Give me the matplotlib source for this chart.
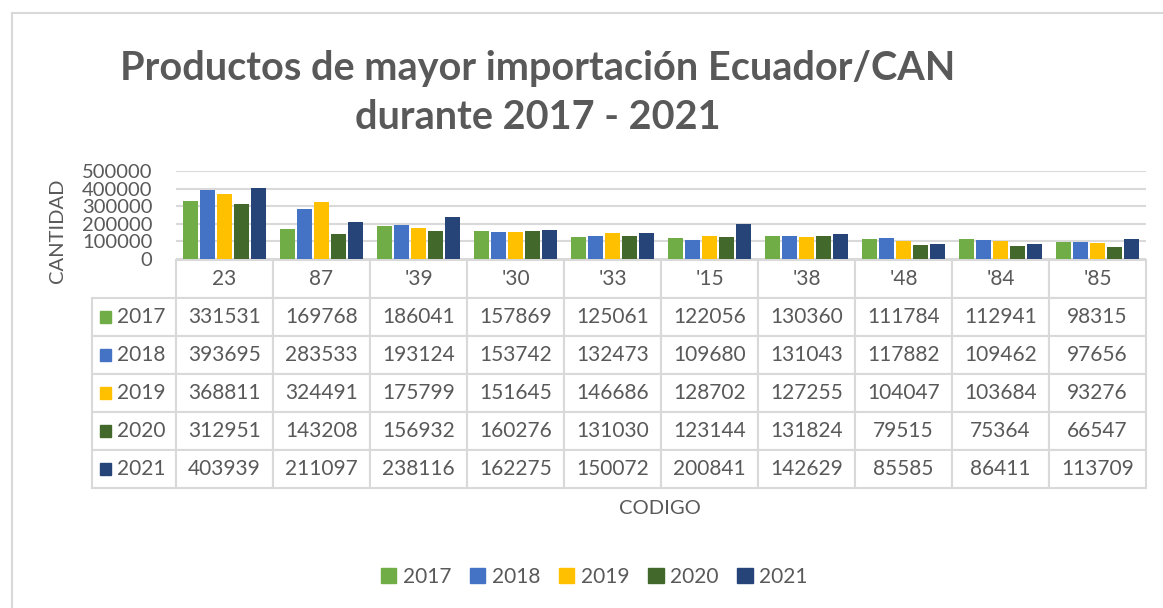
import matplotlib.pyplot as plt
from matplotlib.patches import Rectangle, Patch
import numpy as np

plt.rcParams['font.family'] = ['Lato', 'DejaVu Sans']

codigos = ['23', '87', "'39", "'30", "'33", "'15", "'38", "'48", "'84", "'85"]
anios = ['2017', '2018', '2019', '2020', '2021']
v2017 = [331531, 169768, 186041, 157869, 125061, 122056, 130360, 111784, 112941, 98315]
v2018 = [393695, 283533, 193124, 153742, 132473, 109680, 131043, 117882, 109462, 97656]
v2019 = [368811, 324491, 175799, 151645, 146686, 128702, 127255, 104047, 103684, 93276]
v2020 = [312951, 143208, 156932, 160276, 131030, 123144, 131824, 79515, 75364, 66547]
v2021 = [403939, 211097, 238116, 162275, 150072, 200841, 142629, 85585, 86411, 113709]
series = [v2017, v2018, v2019, v2020, v2021]
colores = ['#70AD47', '#4472C4', '#FFC000', '#43682B', '#264478']

gris = '#595959'
linea = '#D9D9D9'
W, H = 1163, 608

fig = plt.figure(figsize=(W / 100, H / 100), dpi=100)
# borde del area del grafico
fig.patches.append(Rectangle((12 / W, -0.1), 1.2, 1 - 13 / H + 0.1, transform=fig.transFigure,
                             fill=False, edgecolor=linea, linewidth=1.5))

ax = fig.add_axes([176 / W, 1 - 259 / H, 970 / W, 88 / H])
x = np.arange(len(codigos))
paso = 0.175
ancho = 0.155
for i, (vals, c) in enumerate(zip(series, colores)):
    ax.bar(x + (i - 2) * paso, vals, ancho, color=c, zorder=3)

ax.set_xlim(-0.5, len(codigos) - 0.5)
ax.set_ylim(0, 500000)
ax.set_yticks(np.arange(0, 500001, 100000))
ax.yaxis.grid(True, color=linea, linewidth=1.5, zorder=0)
ax.tick_params(axis='y', length=0, labelsize=14.5, labelcolor=gris, pad=17)
ax.set_xticks([])
for s in ax.spines.values():
    s.set_visible(False)

# tabla de datos
celdas = [[''] + codigos] + [[''] + [str(v) for v in vals] for vals in series]
y0, h = (259 - 488) / 88, 228 / 88
x0 = (92 - 176) / 970
tabla = ax.table(cellText=celdas, cellLoc='center',
                 colWidths=[84] + [97] * 10,
                 bbox=[x0, y0, 1 - x0, h])
tabla.auto_set_font_size(False)
tabla.set_fontsize(15)
for (r, c), cell in tabla.get_celld().items():
    cell.set_edgecolor(linea)
    cell.set_linewidth(1.5)
    cell.get_text().set_color(gris)
    if r == 0 and c == 0:
        cell.visible_edges = ''

for i, (a, col) in enumerate(zip(anios, colores)):
    yc = y0 + h * (1 - (i + 1.5) / 6)
    ax.add_patch(Rectangle(((100 - 176) / 970, yc - 6 / 88), 11 / 970, 12 / 88,
                           transform=ax.transAxes, color=col, clip_on=False))
    ax.text((117 - 176) / 970, yc, a, transform=ax.transAxes, va='center', ha='left',
            fontsize=15, color=gris, clip_on=False)

fig.text(58 / W, 1 - 231 / H, 'CANTIDAD', rotation=90, ha='center', va='center',
         fontsize=14.5, color=gris)
fig.text(660 / W, 1 - 508 / H, 'CODIGO', ha='center', va='center', fontsize=14.5, color=gris)

fig.text(538 / W, 1 - 93 / H, 'Productos de mayor importación Ecuador/CAN\ndurante 2017 - 2021',
         ha='center', va='center', fontsize=28.5, fontweight='bold', color=gris,
         linespacing=1.4)

handles = [Patch(color=c, label=a) for a, c in zip(anios, colores)]
leg = fig.legend(handles=handles, loc='center', bbox_to_anchor=(594 / W, 1 - 577 / H), ncol=5,
                 frameon=False, fontsize=15, handlelength=0.75, handleheight=0.75,
                 handletextpad=0.3, columnspacing=0.9)
for t in leg.get_texts():
    t.set_color(gris)

fig.savefig('out.png', dpi=100)
